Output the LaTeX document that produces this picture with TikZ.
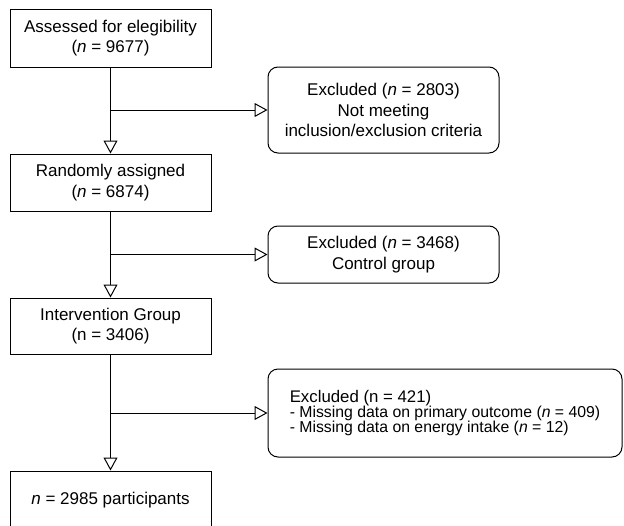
\documentclass[tikz,border=0pt]{standalone}
\usepackage{fontspec}
\setmainfont{Liberation Sans}
\usetikzlibrary{arrows.meta,positioning}

\begin{document}
\begin{tikzpicture}[x=1pt,y=-1pt,>={Triangle[open,length=13pt,width=14pt]},
      font=\fontsize{17}{20.5}\selectfont,
      stage/.style={draw,line width=1pt,fill=white,minimum width=201pt,minimum height=57pt,inner sep=2pt,align=center},
      excl/.style={draw,line width=1pt,fill=white,rounded corners=10pt,minimum width=231pt,inner sep=2pt,align=center},
      flow/.style={draw,line width=1pt}]
    \useasboundingbox (0,0) rectangle (624,525);
    \clip (0,0) rectangle (624,525);
    % main column
    \node[stage,minimum height=58pt] (assess) at (110.5,38) {Assessed for elegibility\\(\textit{n} = 9677)};
    \node[stage] (rand) at (110.5,182.5) {Randomly assigned\\(\textit{n} = 6874)};
    \node[stage,minimum height=56pt] (interv) at (110.5,326) {Intervention Group\\(n = 3406)};
    \node[stage,minimum height=58pt] (final) at (110.5,500) {\textit{n} = 2985 participants};
    % exclusions
    \node[excl,minimum height=86pt] (excl1) at (383.5,110) {Excluded (\textit{n} = 2803)\\Not meeting\\inclusion/exclusion criteria};
    \node[excl,minimum height=57pt] (excl2) at (383.5,254.5) {Excluded (\textit{n} = 3468)\\Control group};
    \node[excl,minimum width=354pt,minimum height=88pt,align=left,font=\fontsize{15.8}{15}\selectfont] (excl3) at (445,413)
      {{\fontsize{16.8}{15}\selectfont Excluded (n = 421)}\\- Missing data on primary outcome (\textit{n} = 409)\\- Missing data on energy intake (\textit{n} = 12)};
    % connectors
    \draw[flow,->] (assess) -- (rand);
    \draw[flow,->] (rand) -- (interv);
    \draw[flow,->] (interv) -- (final);
    \draw[flow,->] (assess.south |- excl1.west) -- (excl1.west);
    \draw[flow,->] (rand.south |- excl2.west) -- (excl2.west);
    \draw[flow,->] (interv.south |- excl3.west) -- (excl3.west);
\end{tikzpicture}
\end{document}
